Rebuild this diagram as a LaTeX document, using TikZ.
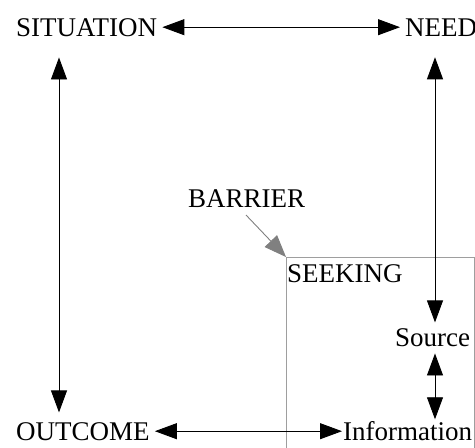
\documentclass[tikz,border=0pt]{standalone}
\usepackage{fontspec}
\setmainfont{Liberation Serif}
\usetikzlibrary{arrows.meta}
\begin{document}
\begin{tikzpicture}[x=1pt,y=-1pt,
  lbl/.style={inner sep=0pt, anchor=base west, font=\fontsize{27pt}{31pt}\selectfont},
  dbl/.style={draw=black, line width=0.9pt,
    {Triangle[length=22pt,width=16pt]}-{Triangle[length=22pt,width=16pt]}},
  barrierarrow/.style={draw=black!50, line width=0.9pt, -{Triangle[length=22pt,width=17pt]}},
  seekbox/.style={draw=black!38, line width=0.9pt}]
\useasboundingbox (0,0) rectangle (475,448);

% labels
\node[lbl] (sit)  at (16,36)   {SITUATION};
\node[lbl] (need) at (405,36)  {NEED};
\node[lbl] (out)  at (16,440)  {OUTCOME};
\node[lbl] (info) at (343,440) {Information};
\node[lbl] (src)  at (395,346) {Source};
\node[lbl] (seek) at (287,282) {SEEKING};
\node[lbl] (bar)  at (188,207) {BARRIER};

% seeking area (open at the bottom)
\coordinate (corner) at (286,257);
\draw[seekbox] (286,460) -- (corner) -- (474,257) -- (474,460);

% columns of the vertical connectors
\coordinate (lx) at (59,0);
\coordinate (rx) at (435,0);

% connectors
\draw[dbl, shorten <=5pt, shorten >=5pt] (sit.east) -- (sit.east -| need.west);
\draw[dbl, shorten <=21pt, shorten >=9.5pt] (sit.south -| lx) -- (out.north -| lx);
\draw[dbl, shorten <=21pt, shorten >=5.5pt] (need.south -| rx) -- (src.north -| rx);
\draw[dbl, shorten <=7pt, shorten >=1.5pt] (src.south -| rx) -- (info.north -| rx);
\draw[dbl, shorten <=5pt, shorten >=1pt] (out.east) -- (out.east -| info.west);

% barrier pointer
\coordinate (bt) at (246,215);
\draw[barrierarrow] (bt) -- (corner);
\end{tikzpicture}
\end{document}
